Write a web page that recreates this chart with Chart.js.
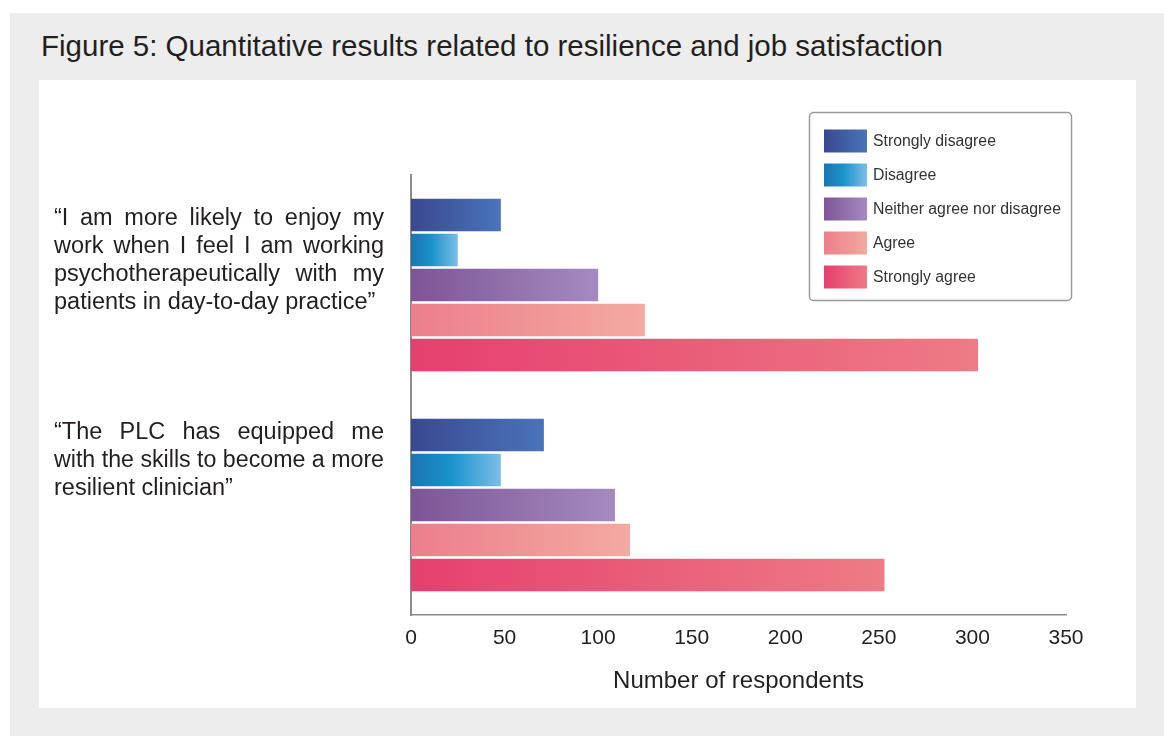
<!DOCTYPE html>
<html>
<head>
<meta charset="utf-8">
<script src="https://cdn.jsdelivr.net/npm/chart.js@4"></script>
<style>
  html, body { margin: 0; padding: 0; background: #fff; }
  body { width: 1164px; height: 736px; position: relative; overflow: hidden; font-family: "Liberation Sans", Arial, sans-serif; }
  #panel { position: absolute; left: 10px; top: 13px; width: 1154px; height: 723px; background: #ededed; }
  #title { position: absolute; left: 31px; top: 15px; font-size: 29.5px; line-height: 36px; color: #231f20; white-space: nowrap; }
  #plot { position: absolute; left: 29px; top: 67px; width: 1097px; height: 628px; background: #fff; }
</style>
</head>
<body>
<div id="panel">
  <div id="title">Figure 5: Quantitative results related to resilience and job satisfaction</div>
  <div id="plot"><canvas id="resilienceChart"></canvas></div>
</div>

<script>
// survey statements (one per group of bars)
const statements = [
  ["\u201cI am more likely to enjoy my", "work when I feel I am working", "psychotherapeutically with my", "patients in day-to-day practice\u201d"],
  ["\u201cThe PLC has equipped me", "with the skills to become a more", "resilient clinician\u201d"]
];
const responses = ["Strongly disagree", "Disagree", "Neither agree nor disagree", "Agree", "Strongly agree"];

// respondents per answer, in statement order
const stronglyDisagree = [48, 71];
const disagree = [25, 48];
const neither = [100, 109];
const agree = [125, 117];
const stronglyAgree = [303, 253];

const xTicks = [0, 50, 100, 150, 200, 250, 300, 350];

// left-to-right gradient stops for each answer
const gradients = [
  [[0, "#3a4890"], [1, "#4a74ba"]],
  [[0, "#1c74b2"], [0.45, "#1a93cb"], [1, "#7dbee8"]],
  [[0, "#7e5496"], [1, "#a58ac1"]],
  [[0, "#ec7e8c"], [1, "#f3aaa0"]],
  [[0, "#e63f6f"], [1, "#ee7b85"]]
];

const FONT = "'Liberation Sans', Arial, sans-serif";

function makeGradient(ctx, x0, x1, stops) {
  const g = ctx.createLinearGradient(x0, 0, Math.max(x1, x0 + 1), 0);
  stops.forEach(([o, c]) => g.addColorStop(o, c));
  return g;
}

function barFill(i) {
  return (c) => {
    const chart = c.chart;
    const x = chart.scales.x;
    if (!x || c.type !== "data") return gradients[i][0][1];
    const x0 = x.getPixelForValue(0);
    const x1 = x.getPixelForValue(c.raw);
    if (!isFinite(x0) || !isFinite(x1)) return gradients[i][0][1];
    return makeGradient(chart.ctx, x0, x1, gradients[i]);
  };
}

const series = [stronglyDisagree, disagree, neither, agree, stronglyAgree];

// draw one line of text squeezed into `width` if it is too long
function fitText(ctx, text, x, y, width) {
  const w = ctx.measureText(text).width;
  if (w <= width) { ctx.fillText(text, x, y); return; }
  ctx.save();
  ctx.translate(x, y);
  ctx.scale(width / w, 1);
  ctx.fillText(text, 0, 0);
  ctx.restore();
}

// statement text drawn left of the axis, justified like a text column
const statementLabels = {
  id: "statementLabels",
  afterDraw(chart) {
    const ctx = chart.ctx;
    const left = 15, width = 330, lineH = 28;
    const firstLine = [20, 14]; // first-line offset below the group's top bar
    ctx.save();
    ctx.font = "23.5px " + FONT;
    ctx.fillStyle = "#231f20";
    ctx.textBaseline = "middle";
    ctx.textAlign = "left";
    statements.forEach((lines, i) => {
      const bar = chart.getDatasetMeta(0).data[i];
      const top = bar.y - bar.height / 2;
      lines.forEach((line, j) => {
        const y = top + firstLine[i] + j * lineH;
        const words = line.split(" ");
        const last = j === lines.length - 1;
        const natural = ctx.measureText(line).width;
        if (last || words.length < 2 || natural >= width) {
          fitText(ctx, line, left, y, width);
          return;
        }
        const wordsW = words.reduce((s, w) => s + ctx.measureText(w).width, 0);
        const gap = (width - wordsW) / (words.length - 1);
        let x = left;
        words.forEach(w => {
          ctx.fillText(w, x, y);
          x += ctx.measureText(w).width + gap;
        });
      });
    });
    ctx.restore();
  }
};

// boxed legend in the upper right of the plot
const boxLegend = {
  id: "boxLegend",
  afterDraw(chart) {
    const ctx = chart.ctx;
    const area = chart.chartArea;
    const bx = area.right - 257, by = area.top - 63, bw = 262, bh = 188;
    ctx.save();
    ctx.beginPath();
    ctx.roundRect(bx + 0.5, by + 0.5, bw, bh, 4);
    ctx.fillStyle = "#fff";
    ctx.fill();
    ctx.lineWidth = 1.5;
    ctx.strokeStyle = "#9a9a9a";
    ctx.stroke();
    ctx.font = "15.8px " + FONT;
    ctx.textBaseline = "middle";
    responses.forEach((label, i) => {
      const cy = by + 29 + i * 34;
      const sx = bx + 15, sw = 43, sh = 23;
      ctx.fillStyle = makeGradient(ctx, sx, sx + sw, gradients[i]);
      ctx.fillRect(sx, cy - sh / 2, sw, sh);
      ctx.fillStyle = "#333";
      fitText(ctx, label, sx + sw + 6, cy + 1, 190);
    });
    ctx.restore();
  }
};

new Chart(document.getElementById("resilienceChart"), {
  type: "bar",
  data: {
    labels: statements.map(s => s.join(" ")),
    datasets: series.map((data, i) => ({
      label: responses[i],
      data: data,
      backgroundColor: barFill(i),
      borderWidth: 0,
      categoryPercentage: 0.795,
      barPercentage: 0.93
    }))
  },
  options: {
    indexAxis: "y",
    responsive: true,
    maintainAspectRatio: false,
    animation: false,
    layout: { padding: { left: 372, top: 95, right: 70, bottom: 12 } },
    plugins: { legend: { display: false }, tooltip: { enabled: false } },
    scales: {
      x: {
        min: 0,
        max: 350,
        afterBuildTicks: (axis) => { axis.ticks = xTicks.map(v => ({ value: v })); },
        afterFit: (axis) => { axis.height = 81; },
        grid: { display: false, drawTicks: false },
        border: { display: true, color: "#8a8a8a", width: 1.5 },
        ticks: { padding: 11, color: "#231f20", font: { size: 21, family: FONT } },
        title: {
          display: true,
          text: "Number of respondents",
          color: "#231f20",
          padding: { top: 0, bottom: 0 },
          font: { size: 24, family: FONT }
        }
      },
      y: {
        grid: { display: false, drawTicks: false },
        border: { display: true, color: "#8a8a8a", width: 2 },
        ticks: { display: false }
      }
    }
  },
  plugins: [statementLabels, boxLegend]
});
</script>
</body>
</html>
